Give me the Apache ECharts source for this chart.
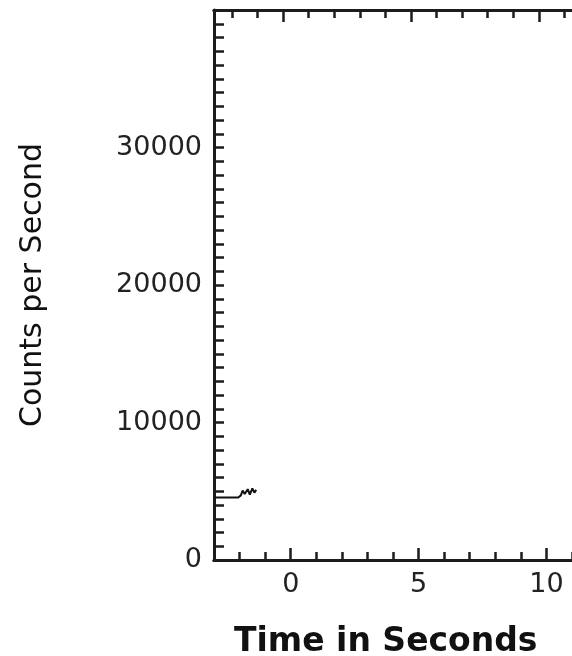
<!DOCTYPE html>
<html>
<head>
<meta charset="utf-8">
<script src="https://cdn.jsdelivr.net/npm/echarts@6/dist/echarts.min.js"></script>
<style>
  html, body { margin: 0; padding: 0; background: #fff; }
  #chart { width: 572px; height: 656px; }
</style>
</head>
<body>
<div id="chart"></div>
<script>
  // counts trace, time in seconds / counts per second
  const timeVals = [-3.0, -2.05, -1.95, -1.88, -1.8, -1.68, -1.6, -1.5, -1.42, -1.35]
  const countVals = [4550, 4550, 4700, 5050, 4800, 5150, 4750, 5200, 4900, 5100]

  const xMinorTicks = [-2, -1, 0, 1, 2, 3, 4, 6, 7, 8, 9, 11]
  const xMajorTicks = [0, 5, 10]
  const yLabels = [0, 10000, 20000, 30000]

  const AXIS = '#1c1c1c'
  const FONT = 'DejaVu Sans'

  const myChart = echarts.init(document.getElementById('chart'))

  const baseX = {
    type: 'value',
    min: -3,
    max: 11,
    splitLine: { show: false },
    axisLine: { show: true, onZero: false, lineStyle: { color: AXIS, width: 3 } },
    axisLabel: { show: false },
    silent: true
  }

  const option = {
    animation: false,
    title: {
      text: 'Time in Seconds',
      left: 229,
      top: 621,
      textStyle: { fontFamily: FONT, fontSize: 33, fontWeight: 'bold', color: '#111' }
    },
    grid: { left: 214, top: 10, bottom: 96, right: 0 },
    xAxis: [
      Object.assign({}, baseX, {
        position: 'bottom',
        axisTick: { show: true, inside: true, length: 8, customValues: xMinorTicks, lineStyle: { color: AXIS, width: 2.5 } },
        axisLabel: {
          show: true,
          customValues: xMajorTicks,
          margin: 11,
          formatter: (v) => String(v),
          fontFamily: FONT, fontSize: 27, color: '#222'
        }
      }),
      Object.assign({}, baseX, {
        position: 'bottom',
        axisTick: { show: true, inside: true, length: 12, customValues: xMajorTicks, lineStyle: { color: AXIS, width: 2.5 } }
      }),
      Object.assign({}, baseX, {
        position: 'top',
        min: -2.7,
        max: 11.3,
        axisTick: { show: true, inside: true, length: 8, customValues: xMinorTicks, lineStyle: { color: AXIS, width: 2.5 } }
      }),
      Object.assign({}, baseX, {
        position: 'top',
        min: -2.7,
        max: 11.3,
        axisTick: { show: true, inside: true, length: 12, customValues: xMajorTicks, lineStyle: { color: AXIS, width: 2.5 } }
      })
    ],
    yAxis: {
      type: 'value',
      min: 0,
      max: 40000,
      interval: 1000,
      name: 'Counts per Second',
      nameLocation: 'middle',
      nameRotate: 90,
      nameGap: 166,
      nameTextStyle: { fontFamily: FONT, fontSize: 30, color: '#111' },
      splitLine: { show: false },
      axisLine: { show: true, onZero: false, lineStyle: { color: AXIS, width: 3 } },
      axisTick: { show: true, inside: true, length: 10, lineStyle: { color: AXIS, width: 2.5 } },
      axisLabel: {
        customValues: yLabels,
        margin: 12,
        formatter: (v) => String(v),
        fontFamily: FONT, fontSize: 27, color: '#222'
      },
      silent: true
    },
    series: [{
      type: 'line',
      xAxisIndex: 0,
      data: timeVals.map((t, i) => [t, countVals[i]]),
      showSymbol: false,
      lineStyle: { color: '#111', width: 2 },
      silent: true
    }]
  }
  myChart.setOption(option)
</script>
</body>
</html>
